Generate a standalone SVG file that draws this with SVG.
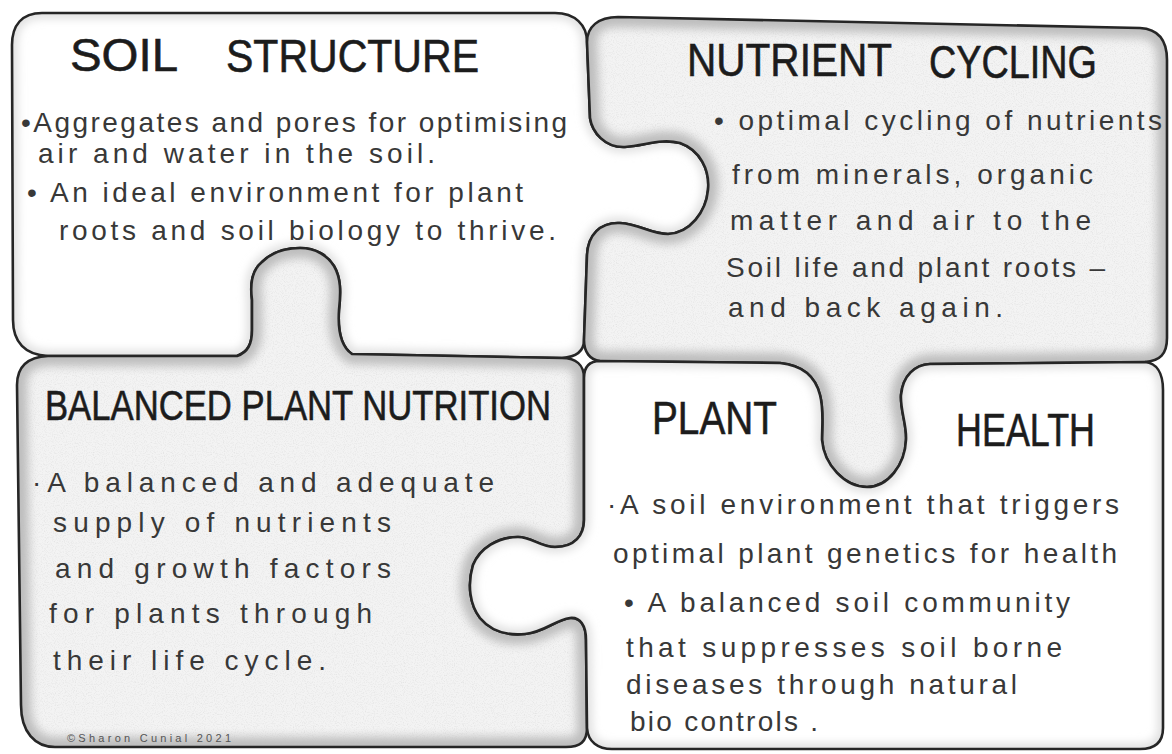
<svg xmlns="http://www.w3.org/2000/svg" xmlns:xlink="http://www.w3.org/1999/xlink" width="1172" height="754" viewBox="0 0 1172 754">
<style>
.outline{fill:none;stroke:#262626;stroke-width:2.6;stroke-linejoin:round;stroke-linecap:round}
.title{font-family:"Liberation Sans Narrow","Liberation Sans",Arial,sans-serif;font-size:47px;fill:#1c1c1c;stroke:#1c1c1c;stroke-width:0.6}
.body{font-family:"Liberation Sans",Arial,sans-serif;font-size:28px;fill:#383838}
.copy{font-family:"Liberation Sans",Arial,sans-serif;font-size:11px;fill:#555}
.white{fill:#ffffff}
.grey{fill:#f3f3f3}
.edge-w{fill:none;stroke:#dcdcdc;stroke-width:10}
.edge-g{fill:none;stroke:#bdbdbd;stroke-width:20}
</style>
<defs>
<path id="pA" d="M 42,13 L 555,13 C 575,13 587,25 587,42 L 590,118 C 592,132 605,148 625,147 C 645,146 660,138 680,143 C 700,150 710,170 708,190 C 706,212 690,233 668,234 C 650,234 640,224 620,223 C 600,222 588,235 587,255 L 584,340 C 584,352 576,357 562,358 L 352,354 C 339,345 338,325 339,310 C 341,292 341,278 334,266 C 328,256 316,248 300,248 C 286,248 272,252 262,262 C 252,270 250,285 252,300 L 252,330 C 252,344 248,352 237,356 L 48,356 C 25,355 13,342 13,320 L 12,45 C 12,25 22,13 42,13 Z"/>
<path id="pB" d="M 618,17 L 1140,28 C 1158,29 1167,40 1167,60 L 1167,338 C 1167,354 1160,361 1145,362 L 930,364 C 915,365 903,375 901,395 C 900,410 907,425 906,440 C 905,465 888,487 867,487 C 845,487 824,465 822,440 C 822,425 824,410 820,395 C 815,375 800,365 780,363 L 600,361 C 590,360 584,352 584,340 L 587,255 C 588,235 600,222 620,223 C 640,224 650,234 668,234 C 690,233 706,212 708,190 C 710,170 700,150 680,143 C 660,138 645,146 625,147 C 605,148 592,132 590,118 L 587,42 C 587,27 598,17 618,17 Z"/>
<path id="pC" d="M 48,356 L 237,356 C 248,352 252,344 252,330 L 252,300 C 250,285 252,270 262,262 C 272,252 286,248 300,248 C 316,248 328,256 334,266 C 341,278 341,292 339,310 C 338,325 339,345 352,354 L 562,358 C 576,358 584,365 584,378 L 584,520 C 584,535 575,547 555,547 C 540,547 532,537 518,537 C 498,537 480,548 473,565 C 467,585 470,605 480,618 C 490,630 505,636 525,634 C 545,632 555,620 570,618 C 580,617 586,625 586,640 L 587,728 C 587,742 580,747 566,747 L 55,747 C 35,747 21,732 21,705 L 17,385 C 17,366 28,357 48,356 Z"/>
<path id="pD" d="M 600,361 L 780,363 C 800,365 815,375 820,395 C 824,410 822,425 822,440 C 824,465 845,487 867,487 C 888,487 905,465 906,440 C 907,425 900,410 901,395 C 903,375 915,365 930,364 L 1145,362 C 1156,363 1163,372 1163,390 L 1163,728 C 1163,742 1155,749 1140,749 L 612,749 C 598,749 588,742 587,728 L 586,640 C 586,625 580,617 570,618 C 555,620 545,632 525,634 C 505,636 490,630 480,618 C 470,605 467,585 473,565 C 480,548 498,537 518,537 C 532,537 540,547 555,547 C 575,547 584,535 584,520 L 584,378 C 584,366 590,361 600,361 Z"/>
<clipPath id="cA"><use xlink:href="#pA"/></clipPath>
<clipPath id="cB"><use xlink:href="#pB"/></clipPath>
<clipPath id="cC"><use xlink:href="#pC"/></clipPath>
<clipPath id="cD"><use xlink:href="#pD"/></clipPath>
<filter id="blur" x="-10%" y="-10%" width="120%" height="120%"><feGaussianBlur stdDeviation="5"/></filter>
<filter id="grain" x="0" y="0" width="100%" height="100%">
<feTurbulence type="fractalNoise" baseFrequency="0.9" numOctaves="2" seed="3"/>
<feColorMatrix type="matrix" values="0 0 0 0 0.35  0 0 0 0 0.35  0 0 0 0 0.35  0 0 0 1.6 -0.75"/>
</filter>
</defs>
<rect width="1172" height="754" fill="#ffffff"/>

<g id="soil-structure">
<use xlink:href="#pA" class="white"/>
<use xlink:href="#pA" class="edge-w" filter="url(#blur)" clip-path="url(#cA)"/>
<use xlink:href="#pA" class="outline"/>
<text class="title" x="70" y="71" textLength="108" lengthAdjust="spacingAndGlyphs">SOIL</text>
<text class="title" x="226" y="72" textLength="253" lengthAdjust="spacingAndGlyphs">STRUCTURE</text>
<text class="body" x="21" y="132" textLength="546" lengthAdjust="spacing">•Aggregates and pores for optimising</text>
<text class="body" x="38" y="163" textLength="397" lengthAdjust="spacing">air and water in the soil.</text>
<text class="body" x="27" y="202" textLength="496" lengthAdjust="spacing">• An ideal environment for plant</text>
<text class="body" x="59" y="240" textLength="497" lengthAdjust="spacing">roots and soil biology to thrive.</text>
</g>

<g id="nutrient-cycling">
<use xlink:href="#pB" class="grey"/>
<rect x="580" y="10" width="592" height="480" filter="url(#grain)" clip-path="url(#cB)" opacity="0.25"/>
<use xlink:href="#pB" class="edge-g" filter="url(#blur)" clip-path="url(#cB)"/>
<use xlink:href="#pB" class="outline"/>
<text class="title" x="687" y="76" textLength="205" lengthAdjust="spacingAndGlyphs">NUTRIENT</text>
<text class="title" x="929" y="78" textLength="168" lengthAdjust="spacingAndGlyphs">CYCLING</text>
<text class="body" x="714" y="130" textLength="448" lengthAdjust="spacing">• optimal cycling of nutrients</text>
<text class="body" x="732" y="184" textLength="361" lengthAdjust="spacing">from minerals, organic</text>
<text class="body" x="730" y="230" textLength="361" lengthAdjust="spacing">matter and air to the</text>
<text class="body" x="726" y="277" textLength="379" lengthAdjust="spacing">Soil life and plant roots –</text>
<text class="body" x="728" y="317" textLength="275" lengthAdjust="spacing">and back again.</text>
</g>

<g id="balanced-plant-nutrition">
<use xlink:href="#pC" class="grey"/>
<rect x="10" y="240" width="590" height="514" filter="url(#grain)" clip-path="url(#cC)" opacity="0.25"/>
<use xlink:href="#pC" class="edge-g" filter="url(#blur)" clip-path="url(#cC)"/>
<use xlink:href="#pC" class="outline"/>
<text class="title" x="45" y="420" textLength="506" lengthAdjust="spacingAndGlyphs" style="font-size:43px">BALANCED PLANT NUTRITION</text>
<text class="body" x="32" y="492" textLength="462" lengthAdjust="spacing">·A balanced and adequate</text>
<text class="body" x="53" y="532" textLength="338" lengthAdjust="spacing">supply of nutrients</text>
<text class="body" x="55" y="578" textLength="336" lengthAdjust="spacing">and growth factors</text>
<text class="body" x="49" y="623" textLength="323" lengthAdjust="spacing">for plants through</text>
<text class="body" x="53" y="670" textLength="273" lengthAdjust="spacing">their life cycle.</text>
<text class="copy" x="67" y="742" textLength="164" lengthAdjust="spacing">©Sharon Cunial 2021</text>
</g>

<g id="plant-health">
<use xlink:href="#pD" class="white"/>
<use xlink:href="#pD" class="edge-w" filter="url(#blur)" clip-path="url(#cD)"/>
<use xlink:href="#pD" class="outline"/>
<text class="title" x="652" y="434" textLength="125" lengthAdjust="spacingAndGlyphs">PLANT</text>
<text class="title" x="956" y="446" textLength="139" lengthAdjust="spacingAndGlyphs">HEALTH</text>
<text class="body" x="607" y="514" textLength="512" lengthAdjust="spacing">·A soil environment that triggers</text>
<text class="body" x="613" y="563" textLength="504" lengthAdjust="spacing">optimal plant genetics for health</text>
<text class="body" x="624" y="612" textLength="446" lengthAdjust="spacing">• A balanced soil community</text>
<text class="body" x="626" y="657" textLength="436" lengthAdjust="spacing">that suppresses soil borne</text>
<text class="body" x="626" y="694" textLength="391" lengthAdjust="spacing">diseases through natural</text>
<text class="body" x="630" y="731" textLength="188" lengthAdjust="spacing">bio controls .</text>
</g>

<g id="connectors"/>
</svg>
